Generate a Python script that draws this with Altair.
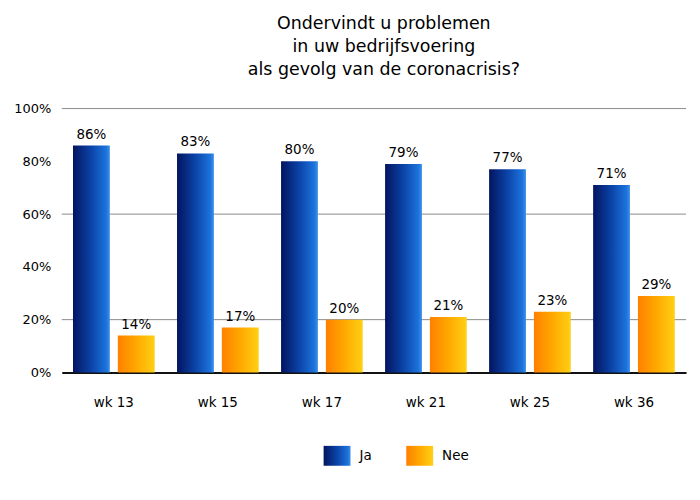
import altair as alt
import pandas as pd

weeks = ["wk 13", "wk 15", "wk 17", "wk 21", "wk 25", "wk 36"]
ja = [86, 83, 80, 79, 77, 71]
nee = [14, 17, 20, 21, 23, 29]
series = ["Ja", "Nee"]
grid_vals = [0.2, 0.6, 1.0]
title_lines = ["Ondervindt u problemen", "in uw bedrijfsvoering", "als gevolg van de coronacrisis?"]

rows = []
for w, a, b in zip(weeks, ja, nee):
    rows.append({"week": w, "serie": "Ja", "value": a / 100})
    rows.append({"week": w, "serie": "Nee", "value": b / 100})
df = pd.DataFrame(rows)
gdf = pd.DataFrame({"g": grid_vals})

FONT = "DejaVu Sans"

grad_ja = "{gradient: 'linear', x1: 0, y1: 0, x2: 1, y2: 0, stops: [{offset: 0, color: '#031460'}, {offset: 0.5, color: '#0b44a8'}, {offset: 0.9, color: '#1c72dc'}, {offset: 1, color: '#3c90ea'}]}"
grad_nee = "{gradient: 'linear', x1: 0, y1: 0, x2: 1, y2: 0, stops: [{offset: 0, color: '#ff8000'}, {offset: 0.5, color: '#ffa800'}, {offset: 1, color: '#ffd014'}]}"

x_enc = alt.X("week:N", sort=weeks, title=None,
              scale=alt.Scale(paddingInner=0.215, paddingOuter=0.108),
              axis=alt.Axis(labelAngle=0, labelFont=FONT, labelFontSize=13.5, labelColor="#000",
                            labelPadding=23, ticks=False, domain=True, domainColor="#111",
                            domainWidth=2))
xo_enc = alt.XOffset("serie:N", sort=series,
                     scale=alt.Scale(domain=series, paddingInner=0.178, paddingOuter=0))
y_enc = alt.Y("value:Q", title=None,
              scale=alt.Scale(domain=[0, 1], nice=False),
              axis=alt.Axis(format=".0%", values=[0, 0.2, 0.4, 0.6, 0.8, 1.0], grid=False,
                            ticks=False, domain=False, labelFont=FONT, labelFontSize=13,
                            labelColor="#000", labelPadding=11))

grid = alt.Chart(gdf).mark_rule(color="#8a8a8a", strokeWidth=1).encode(
    y=alt.Y("g:Q", scale=alt.Scale(domain=[0, 1], nice=False))
)

bars = alt.Chart(df).mark_bar().encode(
    x=x_enc,
    xOffset=xo_enc,
    y=y_enc,
    fill=alt.Fill("serie:N", sort=series,
                  scale=alt.Scale(domain=series, range=[{"expr": grad_ja}, {"expr": grad_nee}]),
                  legend=alt.Legend(title=None, orient="none", direction="horizontal",
                                    legendX=263, legendY=335,
                                    symbolType="M-1,-0.74H1V0.74H-1Z", symbolSize=729,
                                    symbolStrokeWidth=0, labelFont=FONT, labelFontSize=13.5,
                                    labelColor="#000", labelOffset=9, columnPadding=34)),
)

labels = alt.Chart(df).mark_text(dy=-11, font=FONT, fontSize=13.5, color="#000").encode(
    x=alt.X("week:N", sort=weeks),
    xOffset=alt.XOffset("serie:N", sort=series),
    y="value:Q",
    text=alt.Text("value:Q", format=".0%"),
)

chart = alt.layer(grid, bars, labels).properties(
    width=627,
    height=265,
    padding={"left": 5, "top": 6, "right": 5, "bottom": 5},
    title=alt.Title(title_lines, font=FONT, fontSize=17.5, fontWeight="normal", color="#000",
                    lineHeight=23, anchor="middle", dx=10, offset=24),
).configure_view(stroke=None)

chart.save("out.html", embed_options={"renderer": "svg", "actions": False})
